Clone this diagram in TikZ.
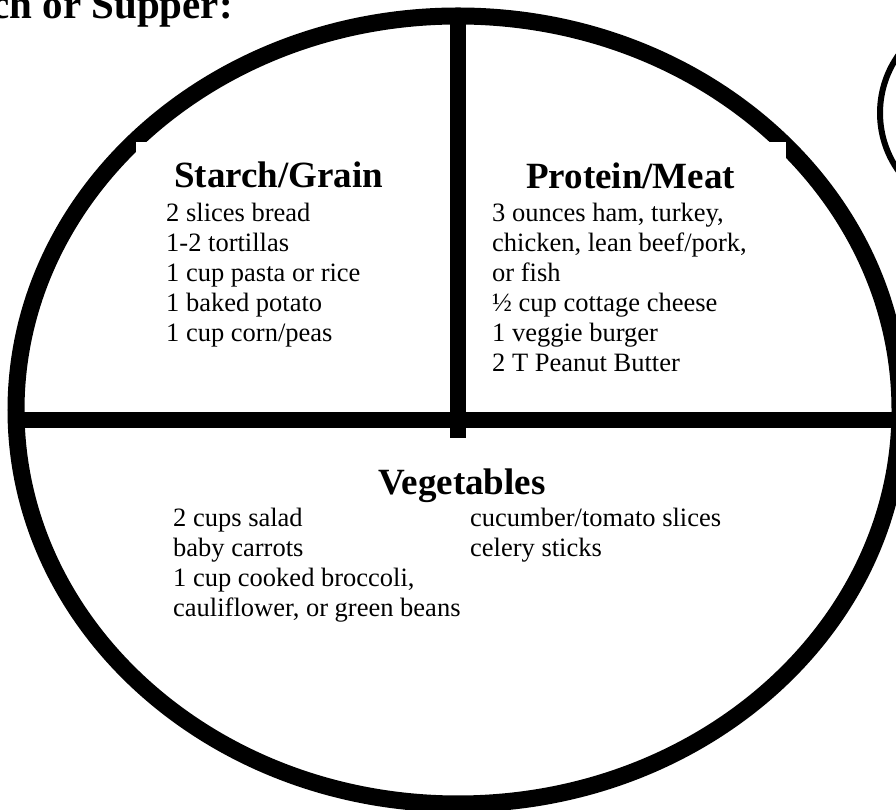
\documentclass[tikz,border=0pt]{standalone}
\usepackage{fontspec}
\setmainfont{Liberation Serif}
\begin{document}
\begin{tikzpicture}[x=1pt,y=1pt,
  body/.style={anchor=base west,inner sep=0pt,font=\fontsize{26.5}{30}\selectfont},
  head/.style={inner sep=0pt,font=\fontsize{37}{40}\selectfont\bfseries},
  plate/.style={line width=17pt},
  divider/.style={line width=16pt,line cap=butt},
  cover/.style={fill=white,draw=none}]
\useasboundingbox (0,0) rectangle (896,810);
% plate
\draw[plate] (458,400) ellipse [x radius=442, y radius=394];
\fill[cover] (136,668) rectangle (445,410);
\fill[cover] (470,668) rectangle (786,410);
% dividers
\coordinate (vtop) at (458,794);
\coordinate (vbot) at (458,372);
\coordinate (hl) at (16,390);
\coordinate (hr) at (900,390);
\draw[divider] (vtop) -- (vbot);
\draw[divider] (hl) -- (hr);
% small circle at right
\draw[line width=6pt] (980,697) circle [radius=100];
% title
\node[head,anchor=base east,font=\fontsize{41}{44}\selectfont\bfseries] (title) at (233,791) {Lunch or Supper:};
% Starch/Grain
\node[head,anchor=base west] (sh) at (174,622) {Starch/Grain};
\node[body] (s1) at (166,588) {2 slices bread};
\node[body] (s2) at (166,558) {1-2 tortillas};
\node[body] (s3) at (166,528) {1 cup pasta or rice};
\node[body] (s4) at (166,498) {1 baked potato};
\node[body] (s5) at (166,468) {1 cup corn/peas};
% Protein/Meat
\node[head,anchor=base west] (ph) at (526,621) {Protein/Meat};
\node[body] (p1) at (492,588) {3 ounces ham, turkey,};
\node[body] (p2) at (492,558) {chicken, lean beef/pork,};
\node[body] (p3) at (492,528) {or fish};
\node[body] (p4) at (492,498) {½ cup cottage cheese};
\node[body] (p5) at (492,468) {1 veggie burger};
\node[body] (p6) at (492,438) {2 T Peanut Butter};
% Vegetables
\node[head,anchor=base] (vh) at (462,315) {Vegetables};
\node[body] (v1) at (173,283) {2 cups salad};
\node[body] (v2) at (173,253) {baby carrots};
\node[body] (v3) at (173,223) {1 cup cooked broccoli,};
\node[body] (v4) at (173,193) {cauliflower, or green beans};
\node[body] (v5) at (470,283) {cucumber/tomato slices};
\node[body] (v6) at (470,253) {celery sticks};
\end{tikzpicture}
\end{document}
